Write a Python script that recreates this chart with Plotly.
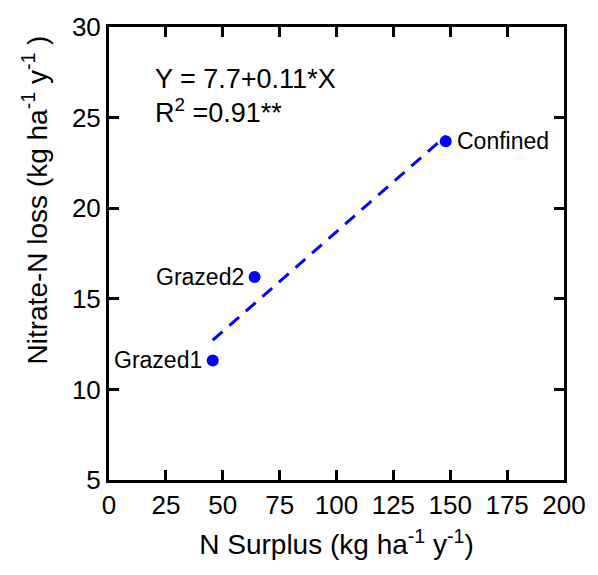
import plotly.graph_objects as go

names = ["Grazed1", "Grazed2", "Confined"]
n_surplus = [45.6, 64.0, 148.0]
nitrate_loss = [11.6, 16.2, 23.7]
intercept = 7.7
slope = 0.11
x_ticks = [0, 25, 50, 75, 100, 125, 150, 175, 200]
y_ticks = [5, 10, 15, 20, 25, 30]

FONT = "Liberation Sans, Arial, Helvetica, sans-serif"
BLUE = "#0000ff"

fig = go.Figure()

x0, x1 = min(n_surplus), max(n_surplus)
fig.add_trace(go.Scatter(
    x=[x0, x1], y=[intercept + slope * x0, intercept + slope * x1],
    mode="lines", line=dict(color=BLUE, width=3, dash="13px,9px"),
    showlegend=False, hoverinfo="skip"))

fig.add_trace(go.Scatter(
    x=n_surplus, y=nitrate_loss, mode="markers",
    marker=dict(color=BLUE, size=12), showlegend=False))

positions = ["left", "left", "right"]
for nm, xv, yv, pos in zip(names, n_surplus, nitrate_loss, positions):
    fig.add_annotation(
        x=xv, y=yv, text=nm, showarrow=False,
        xanchor="right" if pos == "left" else "left",
        xshift=-9 if pos == "left" else 9, yanchor="middle",
        font=dict(family=FONT, size=23, color="black"))

fig.add_annotation(x=19.5, y=27.12, xref="x", yref="y", text="Y = 7.7+0.11*X",
                   showarrow=False, xanchor="left", yanchor="middle",
                   font=dict(family=FONT, size=27, color="black"))
fig.add_annotation(x=19.5, y=25.38, xref="x", yref="y", text="R<sup>2</sup> =0.91**",
                   showarrow=False, xanchor="left", yanchor="middle",
                   font=dict(family=FONT, size=27, color="black"))

# y-axis title (placed as in the reference, slightly above the axis centre)
fig.add_annotation(x=0, y=0.617, xref="paper", yref="paper", xshift=-73,
                   text="Nitrate-N loss (kg ha<sup>-1</sup> y<sup>-1</sup> )",
                   textangle=-90, showarrow=False, xanchor="center", yanchor="middle",
                   font=dict(family=FONT, size=28, color="black"))

axis_common = dict(
    showgrid=False, zeroline=False, showline=True, linecolor="black",
    linewidth=3, mirror="ticks", ticks="inside", ticklen=10, tickwidth=3,
    tickcolor="black", tickfont=dict(family=FONT, size=26, color="black"))

fig.update_xaxes(range=[0, 200], tickvals=x_ticks,
                 ticktext=[str(v) for v in x_ticks],
                 title=dict(text="N Surplus (kg ha<sup>-1</sup> y<sup>-1</sup>)",
                            font=dict(family=FONT, size=28, color="black"),
                            standoff=16),
                 **axis_common)
fig.update_yaxes(range=[5, 30], tickvals=y_ticks,
                 ticktext=[str(v) for v in y_ticks],
                 **axis_common)

fig.update_layout(
    width=598, height=575,
    margin=dict(l=109, r=29, t=20, b=95),
    plot_bgcolor="white", paper_bgcolor="white",
    font=dict(family=FONT, color="black"))

fig.write_html("out.html")
